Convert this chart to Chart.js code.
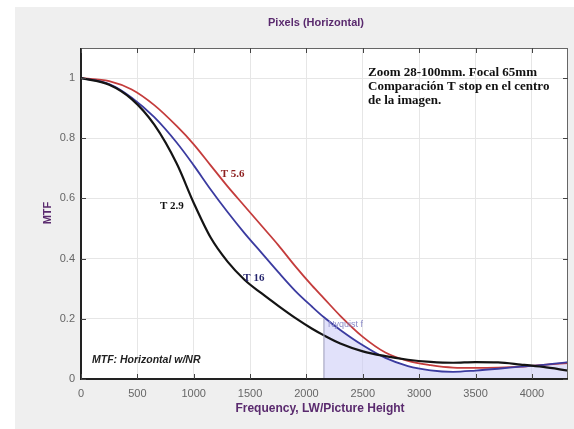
<!DOCTYPE html>
<html>
<head>
<meta charset="utf-8">
<script src="https://cdn.jsdelivr.net/npm/chart.js@4/dist/chart.umd.min.js"></script>
<style>
  html, body { margin: 0; padding: 0; background: #fff; }
  #wrap { width: 574px; height: 429px; position: relative; }
</style>
</head>
<body>
<div id="wrap"><canvas id="chart" width="574" height="429"></canvas></div>
<script>
// frequency, LW/PH
const freq = [0, 250, 450, 650, 850, 1000, 1150, 1300, 1450, 1600, 1750, 1900, 2050, 2155, 2300, 2500, 2700, 2900, 3100, 3300, 3500, 3700, 3900, 4100, 4320]
const t29 = [1.0, 0.978, 0.93, 0.845, 0.715, 0.585, 0.47, 0.39, 0.33, 0.285, 0.243, 0.203, 0.167, 0.145, 0.118, 0.092, 0.076, 0.064, 0.057, 0.054, 0.056, 0.055, 0.048, 0.04, 0.028]
const t56 = [1.0, 0.99, 0.962, 0.91, 0.84, 0.78, 0.71, 0.64, 0.575, 0.51, 0.445, 0.375, 0.31, 0.268, 0.21, 0.14, 0.088, 0.06, 0.046, 0.038, 0.037, 0.038, 0.041, 0.047, 0.053]
const t16 = [1.0, 0.98, 0.935, 0.87, 0.785, 0.71, 0.63, 0.555, 0.485, 0.42, 0.355, 0.293, 0.24, 0.205, 0.163, 0.112, 0.07, 0.043, 0.029, 0.024, 0.028, 0.034, 0.041, 0.047, 0.056]
const nyquist = 2155
const xTicks = [0, 500, 1000, 1500, 2000, 2500, 3000, 3500, 4000]
const yTicks = [0, 0.2, 0.4, 0.6, 0.8, 1]

const pts = arr => freq.map((f, i) => ({ x: f, y: arr[i] }))
const shade = freq.map((f, i) => ({ x: f, y: f >= nyquist ? t16[i] : null }))

const purple = '#5a2a6e'

const decor = {
  id: 'decor',
  beforeDraw(c) {
    const { ctx, chartArea: a } = c
    ctx.save()
    ctx.fillStyle = '#fff'
    ctx.fillRect(0, 0, c.width, c.height)
    ctx.fillStyle = '#efefef'
    ctx.fillRect(15, 7, c.width - 15, c.height - 7)
    ctx.fillStyle = '#fff'
    ctx.fillRect(a.left, a.top, a.right - a.left, a.bottom - a.top)
    ctx.restore()
  },
  afterDatasetsDraw(c) {
    const { ctx, chartArea: a, scales } = c
    const x = scales.x, y = scales.y
    ctx.save()
    // nyquist marker
    ctx.strokeStyle = '#9a9ab8'
    ctx.lineWidth = 1
    ctx.beginPath()
    ctx.moveTo(x.getPixelForValue(nyquist), a.bottom)
    ctx.lineTo(x.getPixelForValue(nyquist), y.getPixelForValue(0.2))
    ctx.stroke()
    // frame
    ctx.strokeStyle = '#666'
    ctx.lineWidth = 1
    ctx.strokeRect(a.left + 0.5, a.top + 0.5, a.right - a.left - 1, a.bottom - a.top)
    ctx.strokeStyle = '#222'
    ctx.lineWidth = 2
    ctx.beginPath()
    ctx.moveTo(a.left, a.top)
    ctx.lineTo(a.left, a.bottom)
    ctx.lineTo(a.right, a.bottom)
    ctx.stroke()
    // inward ticks
    ctx.strokeStyle = '#444'
    ctx.lineWidth = 1
    ctx.beginPath()
    xTicks.forEach(v => {
      const px = Math.round(x.getPixelForValue(v)) + 0.5
      ctx.moveTo(px, a.bottom); ctx.lineTo(px, a.bottom - 5)
      ctx.moveTo(px, a.top); ctx.lineTo(px, a.top + 5)
    })
    yTicks.forEach(v => {
      const py = Math.round(y.getPixelForValue(v)) + 0.5
      ctx.moveTo(a.left, py); ctx.lineTo(a.left + 5, py)
      ctx.moveTo(a.right, py); ctx.lineTo(a.right - 5, py)
    })
    ctx.stroke()

    // titles
    ctx.fillStyle = purple
    ctx.textAlign = 'center'
    ctx.textBaseline = 'middle'
    ctx.font = 'bold 11px "Liberation Sans", Arial'
    ctx.fillText('Pixels (Horizontal)', 316, 23)
    ctx.font = 'bold 12px "Liberation Sans", Arial'
    ctx.fillText('Frequency, LW/Picture Height', 320, 409)
    ctx.save()
    ctx.translate(48, 213)
    ctx.rotate(-Math.PI / 2)
    ctx.font = 'bold 11px "Liberation Sans", Arial'
    ctx.fillText('MTF', 0, 0)
    ctx.restore()

    // annotations
    ctx.textAlign = 'left'
    ctx.fillStyle = '#111'
    ctx.font = 'bold 13px "Liberation Serif", "Times New Roman", serif'
    ctx.fillText('Zoom 28-100mm. Focal 65mm', 368, 73)
    ctx.fillText('Comparación T stop en el centro', 368, 87)
    ctx.fillText('de la imagen.', 368, 101)

    ctx.font = 'bold 11px "Liberation Serif", "Times New Roman", serif'
    ctx.fillStyle = '#8e2020'
    ctx.fillText('T 5.6', x.getPixelForValue(1240), y.getPixelForValue(0.68))
    ctx.fillStyle = '#111'
    ctx.fillText('T 2.9', x.getPixelForValue(700), y.getPixelForValue(0.575))
    ctx.fillStyle = '#26266e'
    ctx.fillText('T 16', x.getPixelForValue(1440), y.getPixelForValue(0.335))

    ctx.font = '9px "Liberation Sans", Arial'
    ctx.fillStyle = '#8a8ac8'
    ctx.fillText('Nyquist f', x.getPixelForValue(2190), y.getPixelForValue(0.18))

    ctx.fillStyle = '#222'
    ctx.font = 'italic bold 10.5px "Liberation Sans", Arial'
    ctx.fillText('MTF: Horizontal w/NR', 92, 360)
    ctx.restore()
  }
}

new Chart(document.getElementById('chart'), {
  type: 'line',
  data: {
    datasets: [
      { data: shade, borderWidth: 0, pointRadius: 0, fill: 'origin', backgroundColor: 'rgba(200,200,245,0.55)', spanGaps: false, order: 4 },
      { data: pts(t29), borderColor: '#141414', borderWidth: 2.2, pointRadius: 0, cubicInterpolationMode: 'monotone', fill: false, order: 1 },
      { data: pts(t16), borderColor: '#3b3ba0', borderWidth: 1.8, pointRadius: 0, cubicInterpolationMode: 'monotone', fill: false, order: 2 },
      { data: pts(t56), borderColor: '#c43c3c', borderWidth: 1.8, pointRadius: 0, cubicInterpolationMode: 'monotone', fill: false, order: 3 },
    ],
  },
  options: {
    responsive: false,
    animation: false,
    layout: { padding: { left: 0, top: 48, right: 6, bottom: 0 } },
    plugins: { legend: { display: false }, tooltip: { enabled: false }, title: { display: false } },
    scales: {
      x: {
        type: 'linear', min: 0, max: 4320,
        afterFit: s => { s.height = 50 },
        afterBuildTicks: s => { s.ticks = xTicks.map(v => ({ value: v })) },
        border: { display: false },
        grid: { color: '#e6e6e6', drawTicks: false },
        ticks: { padding: 8, color: '#666', font: { family: '"Liberation Sans", Arial', size: 11 },
          callback: v => String(v) },
      },
      y: {
        min: 0, max: 1.1,
        afterFit: s => { s.width = 81 },
        afterBuildTicks: s => { s.ticks = yTicks.map(v => ({ value: v })) },
        border: { display: false },
        grid: { color: '#e6e6e6', drawTicks: false },
        ticks: { padding: 6, color: '#666', font: { family: '"Liberation Sans", Arial', size: 11 },
          callback: v => String(+(+v).toFixed(1)) },
      },
    },
  },
  plugins: [decor],
})
</script>
</body>
</html>
